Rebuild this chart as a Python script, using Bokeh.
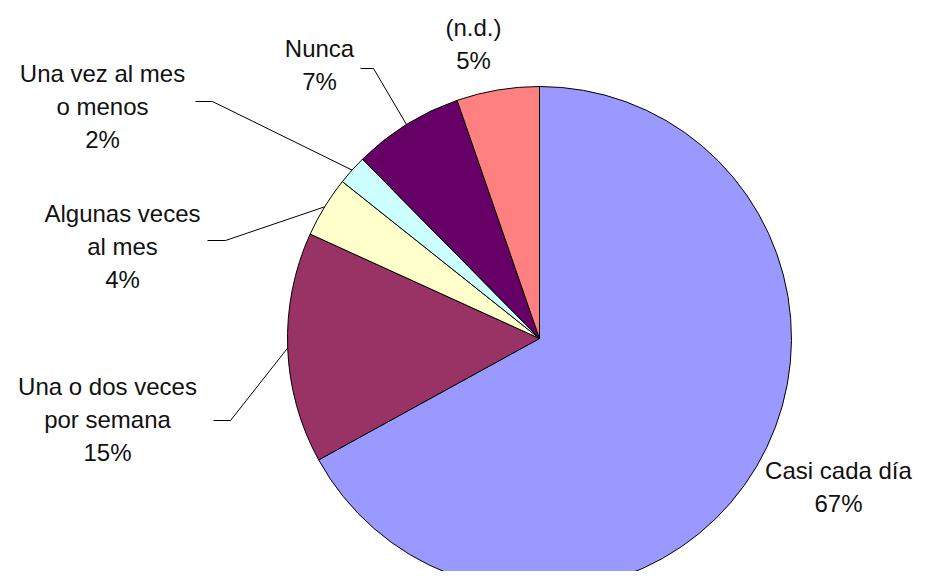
import math
from bokeh.plotting import figure
from bokeh.models import Range1d, ColumnDataSource
from bokeh.core.properties import value
from bokeh.embed import file_html
from bokeh.resources import INLINE

# ---- data ----
categories = ["Casi cada día", "Una o dos veces por semana", "Algunas veces al mes",
              "Una vez al mes o menos", "Nunca", "(n.d.)"]
label_lines = [["Casi cada día"], ["Una o dos veces", "por semana"], ["Algunas veces", "al mes"],
               ["Una vez al mes", "o menos"], ["Nunca"], ["(n.d.)"]]
percent = [67.0, 14.8, 3.9, 1.9, 7.1, 5.3]
colors = ["#9999FF", "#993366", "#FFFFCC", "#CCFFFF", "#660066", "#FF8080"]

# ---- layout (picture pixel coordinates) ----
W, H = 915, 571
def X(xp): return xp
def Y(yp): return H - yp

CX, CY, R = 539, 338, 252
label_pos = [(838, 470), (107, 386), (122, 213), (102, 73), (319, 48), (473, 27)]
LINE_GAP = 33
# leader: (x_start, x_elbow, y) of horizontal part, or None
leaders = [None, (213, 230, 420), (207, 225, 240), (195, 212, 101), (360, 373, 68), None]

p = figure(width=W, height=H, output_backend="svg", toolbar_location=None,
           x_range=Range1d(0, W), y_range=Range1d(0, H), min_border=0)
p.axis.visible = False
p.grid.visible = False
p.outline_line_color = None
p.background_fill_color = "white"

total = sum(percent)
starts, ends, mids = [], [], []
cum = 0.0
for v in percent:
    a0 = math.pi / 2 - 2 * math.pi * cum / total
    cum += v
    a1 = math.pi / 2 - 2 * math.pi * cum / total
    starts.append(a0)
    ends.append(a1)
    mids.append((a0 + a1) / 2)

src = ColumnDataSource(dict(x=[X(CX)] * len(percent), y=[Y(CY)] * len(percent),
                            start=starts, end=ends, color=colors, cat=categories))
p.wedge(x="x", y="y", radius=R, radius_units="screen", start_angle="start", end_angle="end",
        direction="clock", fill_color="color", line_color="black", line_width=1, source=src)

# leader lines
for i, ld in enumerate(leaders):
    if ld is None:
        continue
    xs, xe, yy = ld
    ax = CX + R * math.cos(mids[i])
    ay = CY - R * math.sin(mids[i])
    p.line([X(xs), X(xe), X(ax)], [Y(yy), Y(yy), Y(ay)], line_color="black", line_width=1)

# labels
tx, ty, tt = [], [], []
for i, lines in enumerate(label_lines):
    lx, ly = label_pos[i]
    allines = lines + [f"{round(percent[i])}%"]
    for k, s in enumerate(allines):
        tx.append(X(lx))
        ty.append(Y(ly + k * LINE_GAP))
        tt.append(s)
p.text(x=tx, y=ty, text=tt, text_align="center", text_baseline="middle",
       text_font=value("Liberation Sans"), text_font_size="24px", text_color="#111111")

open("out.html", "w").write(file_html(p, INLINE))
